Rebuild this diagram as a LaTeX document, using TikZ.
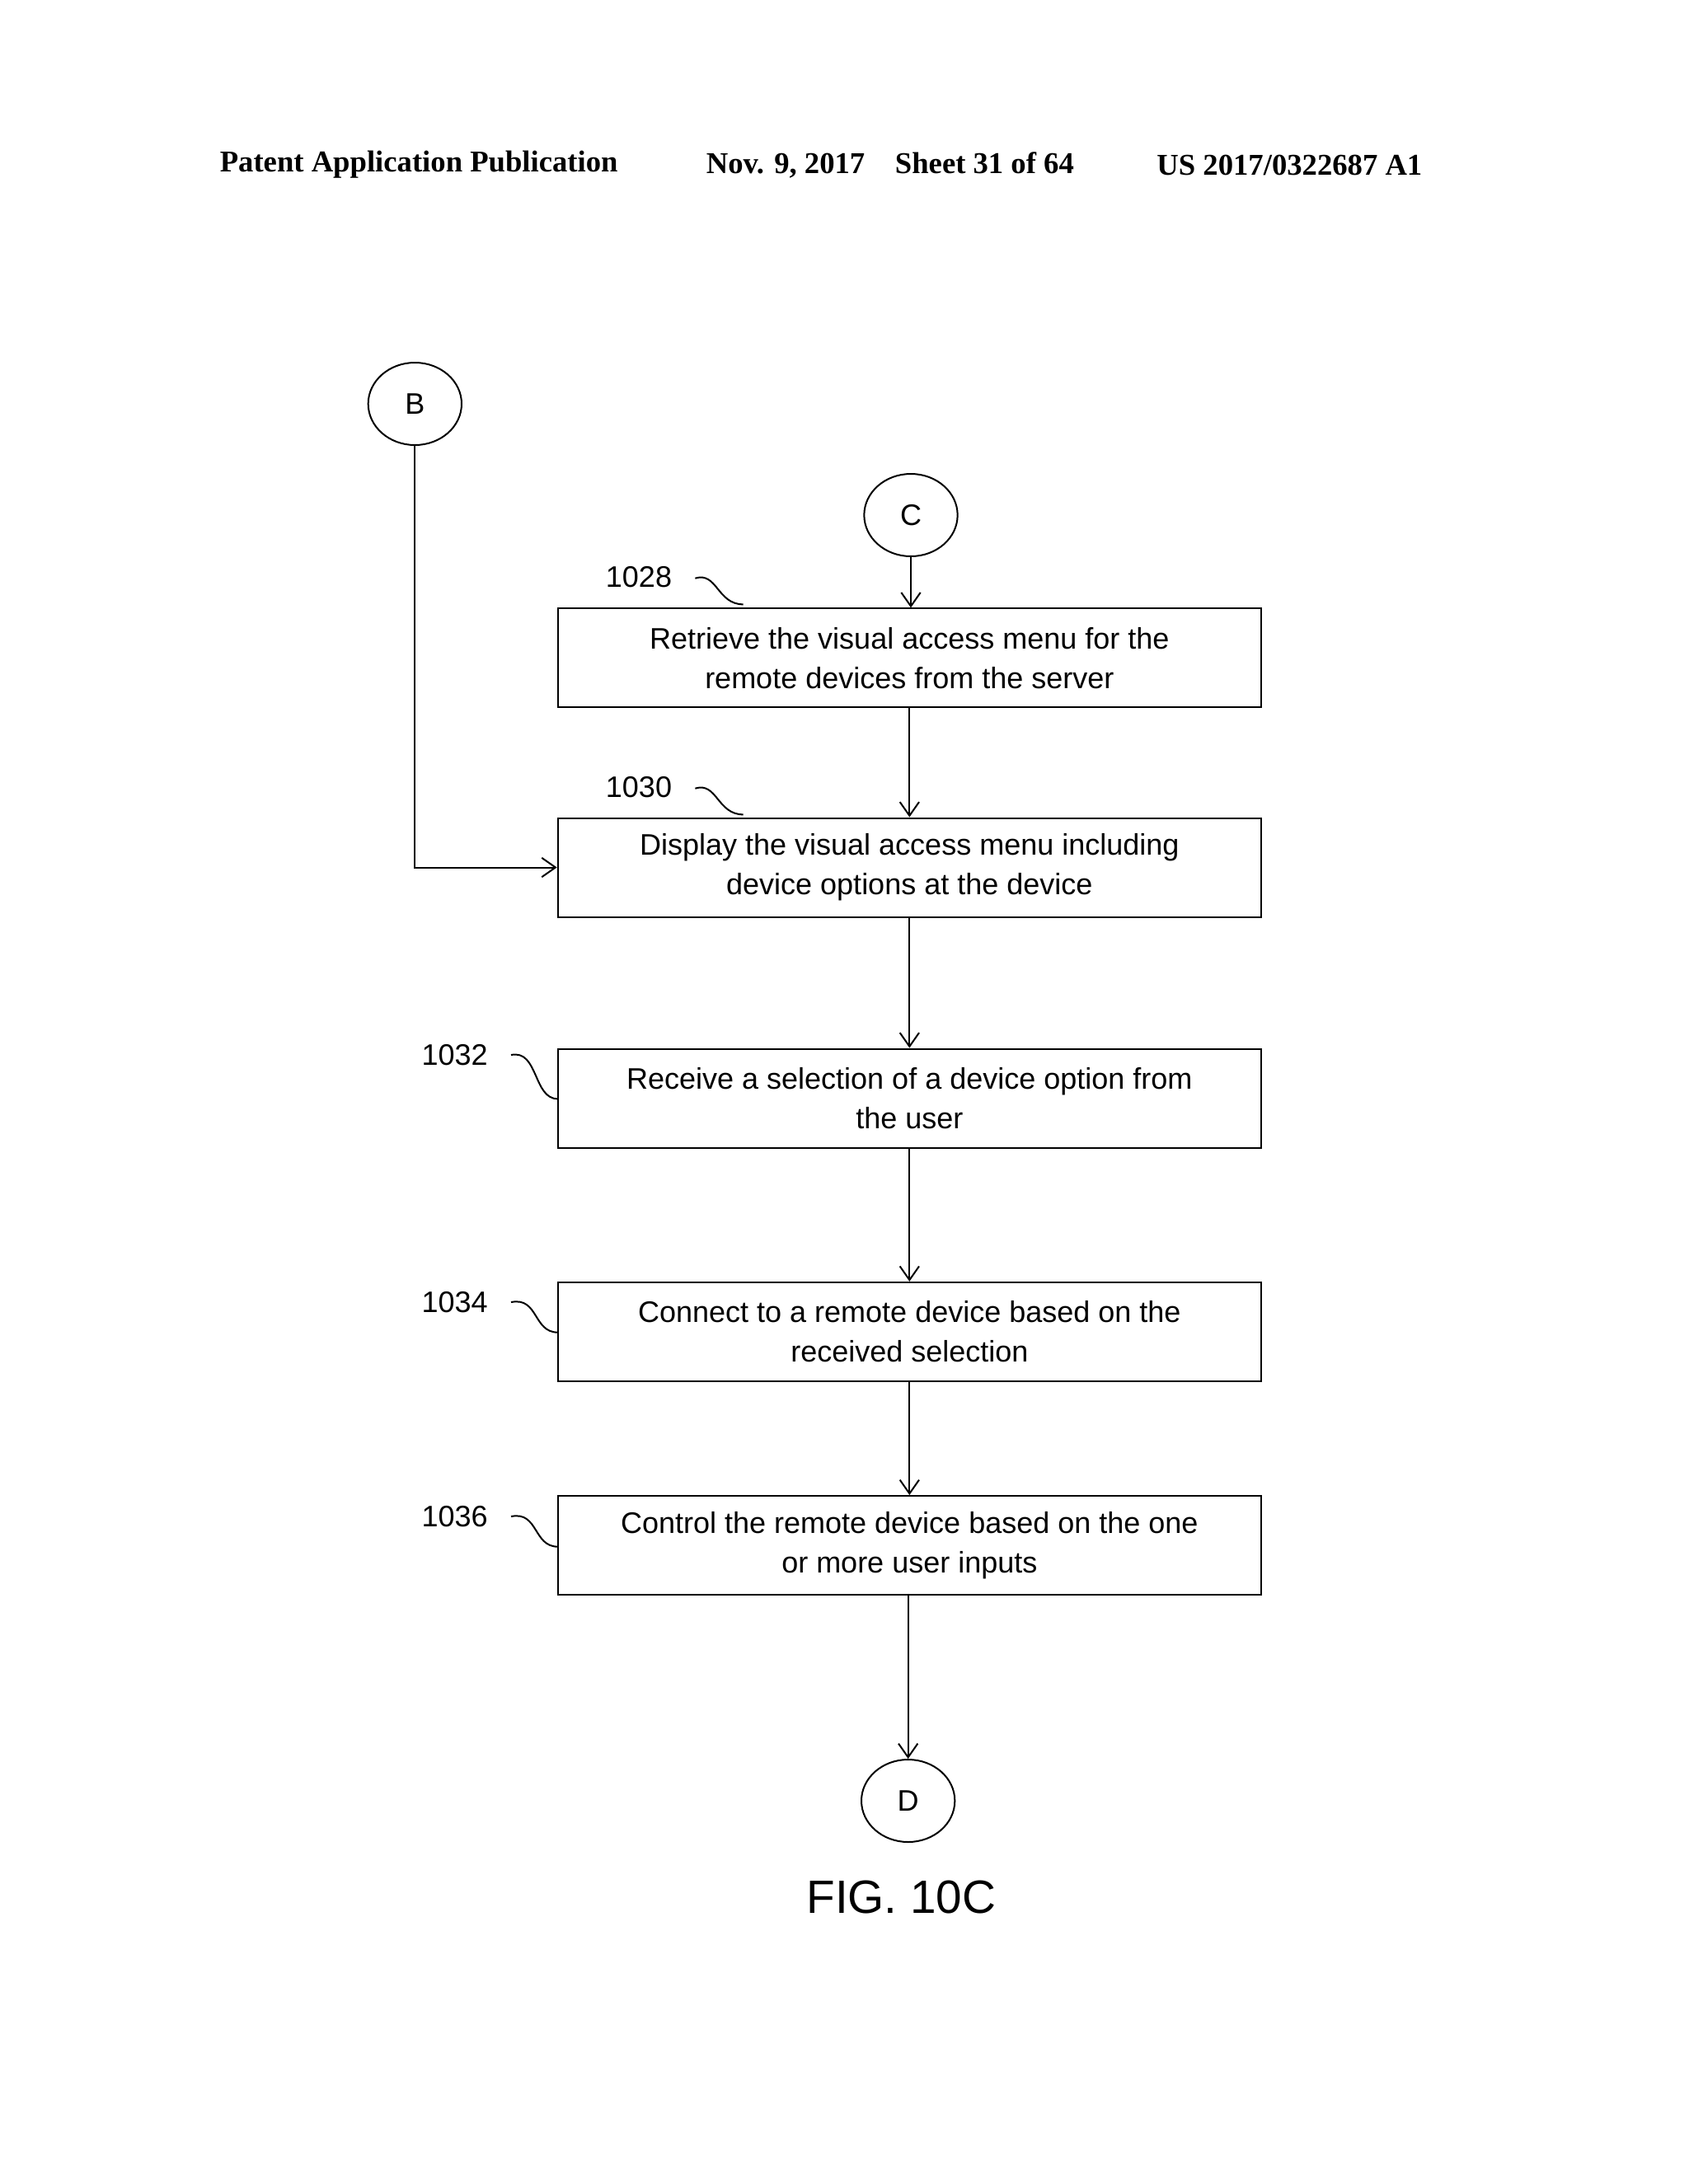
\documentclass[tikz,border=0pt]{standalone}
\usepackage{fontspec}
\setmainfont{Liberation Sans}
\newfontfamily\hdr{Liberation Serif}
\usetikzlibrary{arrows.meta,shapes.geometric}
\begin{document}
\begin{tikzpicture}[x=0.5pt,y=-0.5pt,
  box/.style={draw,line width=0.6pt,minimum width=256pt,minimum height=36pt,align=center,font=\fontsize{10.8}{14.5}\selectfont,inner sep=0pt},
  conn/.style={draw,ellipse,line width=0.6pt,minimum width=34pt,minimum height=30pt,font=\fontsize{10.8}{13}\selectfont},
  arr/.style={-{Straight Barb[length=5pt,width=7pt]},line width=0.6pt},
  lab/.style={font=\fontsize{10.8}{13}\selectfont},
  sq/.style={line width=0.6pt}]
\useasboundingbox (0,0) rectangle (1229,1590);
\node[font=\hdr\bfseries\fontsize{11}{13}\selectfont,anchor=west] (h1) at (153,120) {Patent Application Publication};
\node[font=\hdr\bfseries\fontsize{11}{13}\selectfont,anchor=west] (h2) at (507,120) {Nov. 9, 2017\quad Sheet 31 of 64};
\node[font=\hdr\bfseries\fontsize{11}{13}\selectfont,anchor=west] (h3) at (835,120) {US 2017/0322687 A1};
\node[conn] (B) at (302,294) {B};
\node[conn] (C) at (663,375) {C};
\node[conn] (D) at (661,1311) {D};
\node[box] (b1) at (662,479) {Retrieve the visual access menu for the\\remote devices from the server};
\node[box] (b2) at (662,631.5) {Display the visual access menu including\\device options at the device};
\node[box] (b3) at (662,799.5) {Receive a selection of a device option from\\the user};
\node[box] (b4) at (662,969.5) {Connect to a remote device based on the\\received selection};
\node[box] (b5) at (662,1125) {Control the remote device based on the one\\or more user inputs};
\node[lab] (l1) at (465,420) {1028};
\node[lab] (l2) at (465,573) {1030};
\node[lab] (l3) at (331,768) {1032};
\node[lab] (l4) at (331,948) {1034};
\node[lab] (l5) at (331,1104) {1036};
\draw[sq] (506,421) .. controls (522,416) and (522,440) .. (541,440);
\draw[sq] (506,574) .. controls (522,569) and (522,593) .. (541,593);
\draw[sq] (372,768) .. controls (392,764) and (388,800) .. (406,800);
\draw[sq] (372,948) .. controls (392,944) and (388,970) .. (406,970);
\draw[sq] (372,1104) .. controls (392,1100) and (388,1126) .. (406,1126);
\draw[arr] (C) -- (C |- b1.north);
\draw[arr] (b1) -- (b2);
\draw[arr] (b2) -- (b3);
\draw[arr] (b3) -- (b4);
\draw[arr] (b4) -- (b5);
\draw[arr] (b5.south -| D) -- (D);
\draw[arr] (B) |- (b2.west);
\node[font=\fontsize{17}{20}\selectfont] (fig) at (656,1381) {FIG. 10C};
\end{tikzpicture}
\end{document}
